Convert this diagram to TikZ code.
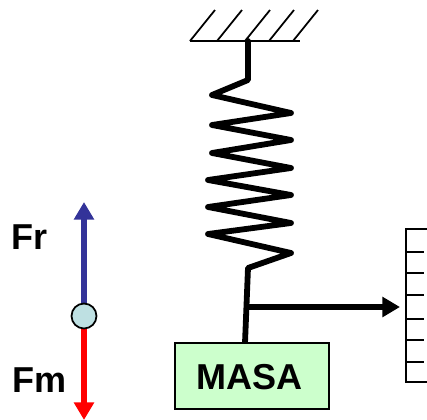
\documentclass[tikz,border=0pt]{standalone}
\usepackage{fontspec}
\setmainfont{Liberation Sans}
\usetikzlibrary{arrows.meta}
\definecolor{masagreen}{RGB}{204,255,204}
\definecolor{ballblue}{RGB}{190,224,226}
\definecolor{frblue}{RGB}{51,51,153}
\tikzset{
    thinline/.style={line width=1pt},
    springline/.style={line width=3.3pt, line join=round, line cap=round},
    biglabel/.style={font=\bfseries\fontsize{20.5}{24}\selectfont, inner sep=0pt},
    forcearrow/.style={line width=3.4pt, -{Triangle[length=10pt, width=11pt]}}
}
\begin{document}
\begin{tikzpicture}[x=0.02cm, y=-0.02cm]
\useasboundingbox (0, 0) rectangle (427, 420);

% ceiling
\coordinate (ceilL) at (190, 41);
\coordinate (ceilR) at (300, 41);
\draw[thinline] (ceilL) -- (ceilR);
\foreach \x in {190, 217, 245, 269, 293}
    \draw[thinline] (\x, 41) -- (\x+25, 10);

% spring
\coordinate (top) at (248, 41);
\coordinate (bot) at (245, 343);
\draw[springline] (top) -- (248, 80) -- (212, 95) -- (291, 113) -- (212, 125) -- (291, 140)
    -- (212, 153) -- (291, 168) -- (208, 180) -- (291, 195) -- (208, 207) -- (291, 223)
    -- (208, 234) -- (291, 253) -- (248, 268) -- (bot);

% mass
\node[draw, thinline, fill=masagreen, inner sep=0pt, anchor=north west, outer sep=0pt,
    minimum width=3.08cm, minimum height=1.32cm] (masa) at (175, 343) {};
\node[biglabel] (masaText) at (249.5, 377) {MASA};

% scale
\coordinate (scaleA) at (427, 229);
\coordinate (scaleB) at (406, 229);
\coordinate (scaleC) at (406, 382);
\coordinate (scaleD) at (427, 382);
\draw[thinline] (scaleA) -- (scaleB) -- (scaleC) -- (scaleD);
\foreach \y in {252, 273, 295, 319, 340, 362}
    \draw[thinline] (406, \y) -- (424, \y);

% pointer
\coordinate (ptr) at (247, 307);
\coordinate (ptrEnd) at (400, 307);
\draw[line width=2.9pt, -{Triangle[length=10pt, width=11pt]}] (ptr) -- (ptrEnd);

% forces
\coordinate (frTip) at (84, 202);
\coordinate (fmTip) at (84, 420);
\coordinate (ballC) at (84, 316);
\draw[forcearrow, frblue] (ballC) -- (frTip);
\draw[forcearrow, red] (ballC) -- (fmTip);
\node[circle, draw, thinline, fill=ballblue, minimum size=0.5cm, inner sep=0pt] (ball) at (ballC) {};
\node[biglabel] (fr) at (30, 237) {Fr};
\node[biglabel] (fm) at (39.5, 380) {Fm};
\end{tikzpicture}
\end{document}
